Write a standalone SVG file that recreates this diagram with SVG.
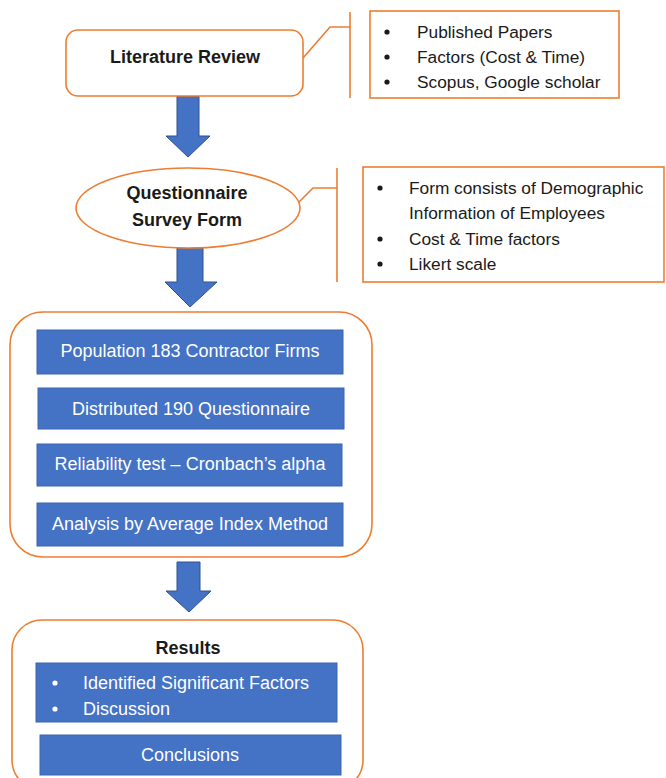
<svg xmlns="http://www.w3.org/2000/svg" width="666" height="778" viewBox="0 0 666 778">
<style>
.ol{fill:#fff;stroke:#ED7D31;stroke-width:1.6}
.ln{fill:none;stroke:#ED7D31;stroke-width:1.6}
.bb{fill:#4472C4;stroke:#3A64B0;stroke-width:1}
.ar{fill:#4472C4;stroke:#2F528F;stroke-width:1}
.t{font-family:"Liberation Sans",Arial,sans-serif;font-size:17.3px;fill:#1a1a1a}
.b{font-family:"Liberation Sans",Arial,sans-serif;font-size:18px;font-weight:bold;fill:#1a1a1a;text-anchor:middle}
.w{font-family:"Liberation Sans",Arial,sans-serif;font-size:18px;fill:#fff;text-anchor:middle}
.wl{font-family:"Liberation Sans",Arial,sans-serif;font-size:18px;fill:#fff}
</style>
<rect width="666" height="778" fill="#fff"/>
<g id="connectors">
<path class="ar" d="M177,96 H199 V136 H210 L188,157 L166,136 H177 Z"/>
<path class="ar" d="M177,247 H203 V282 H217 L190,307 L165,282 H177 Z"/>
<path class="ar" d="M177,562 H200 V591 H211 L189,612 L166,591 H177 Z"/>
<path class="ln" d="M303,58 L330,27 H350"/>
<line class="ln" x1="350" y1="12" x2="350" y2="98"/>
<path class="ln" d="M298,203 L313,188 H337"/>
<line class="ln" x1="337" y1="168" x2="337" y2="282"/>
</g>
<g id="literature-review">
<rect class="ol" x="66" y="30" width="237" height="66" rx="12"/>
<text class="b" x="185" y="63">Literature Review</text>
</g>
<g id="lit-notes">
<rect class="ol" x="370" y="11" width="249" height="87"/>
<circle cx="387" cy="32" r="2.6" fill="#1a1a1a"/>
<circle cx="387" cy="57" r="2.6" fill="#1a1a1a"/>
<circle cx="387" cy="82" r="2.6" fill="#1a1a1a"/>
<text class="t" x="417" y="38">Published Papers</text>
<text class="t" x="417" y="63">Factors (Cost &amp; Time)</text>
<text class="t" x="417" y="88">Scopus, Google scholar</text>
</g>
<g id="questionnaire">
<ellipse class="ol" cx="188" cy="208" rx="112" ry="40"/>
<text class="b" x="187" y="199">Questionnaire</text>
<text class="b" x="187" y="226">Survey Form</text>
</g>
<g id="questionnaire-notes">
<rect class="ol" x="363" y="167" width="301" height="115"/>
<circle cx="380" cy="188" r="2.6" fill="#1a1a1a"/>
<circle cx="380" cy="239" r="2.6" fill="#1a1a1a"/>
<circle cx="380" cy="264" r="2.6" fill="#1a1a1a"/>
<text class="t" x="409" y="194">Form consists of Demographic</text>
<text class="t" x="409" y="219">Information of Employees</text>
<text class="t" x="409" y="245">Cost &amp; Time factors</text>
<text class="t" x="409" y="270">Likert scale</text>
</g>
<g id="method">
<rect class="ol" x="10" y="312" width="362" height="245" rx="33"/>
<g id="population">
<rect class="bb" x="37" y="330" width="306" height="44"/>
<text class="w" x="190" y="357">Population 183 Contractor Firms</text>
</g>
<g id="distributed">
<rect class="bb" x="38" y="388" width="306" height="41"/>
<text class="w" x="191" y="415">Distributed 190 Questionnaire</text>
</g>
<g id="reliability">
<rect class="bb" x="37" y="444" width="305" height="42"/>
<text class="w" x="190" y="470">Reliability test – Cronbach’s alpha</text>
</g>
<g id="analysis">
<rect class="bb" x="37" y="503" width="306" height="43"/>
<text class="w" x="190" y="530">Analysis by Average Index Method</text>
</g>
</g>
<g id="results">
<rect class="ol" x="12" y="620" width="351" height="170" rx="30"/>
<text class="b" x="188" y="654">Results</text>
<g id="findings">
<rect class="bb" x="36" y="663" width="301" height="59"/>
<circle cx="55" cy="683" r="2.6" fill="#fff"/>
<circle cx="55" cy="709" r="2.6" fill="#fff"/>
<text class="wl" x="83" y="689">Identified Significant Factors</text>
<text class="wl" x="83" y="715">Discussion</text>
</g>
<g id="conclusions">
<rect class="bb" x="40" y="735" width="301" height="40"/>
<text class="w" x="190" y="761">Conclusions</text>
</g>
</g>
</svg>
